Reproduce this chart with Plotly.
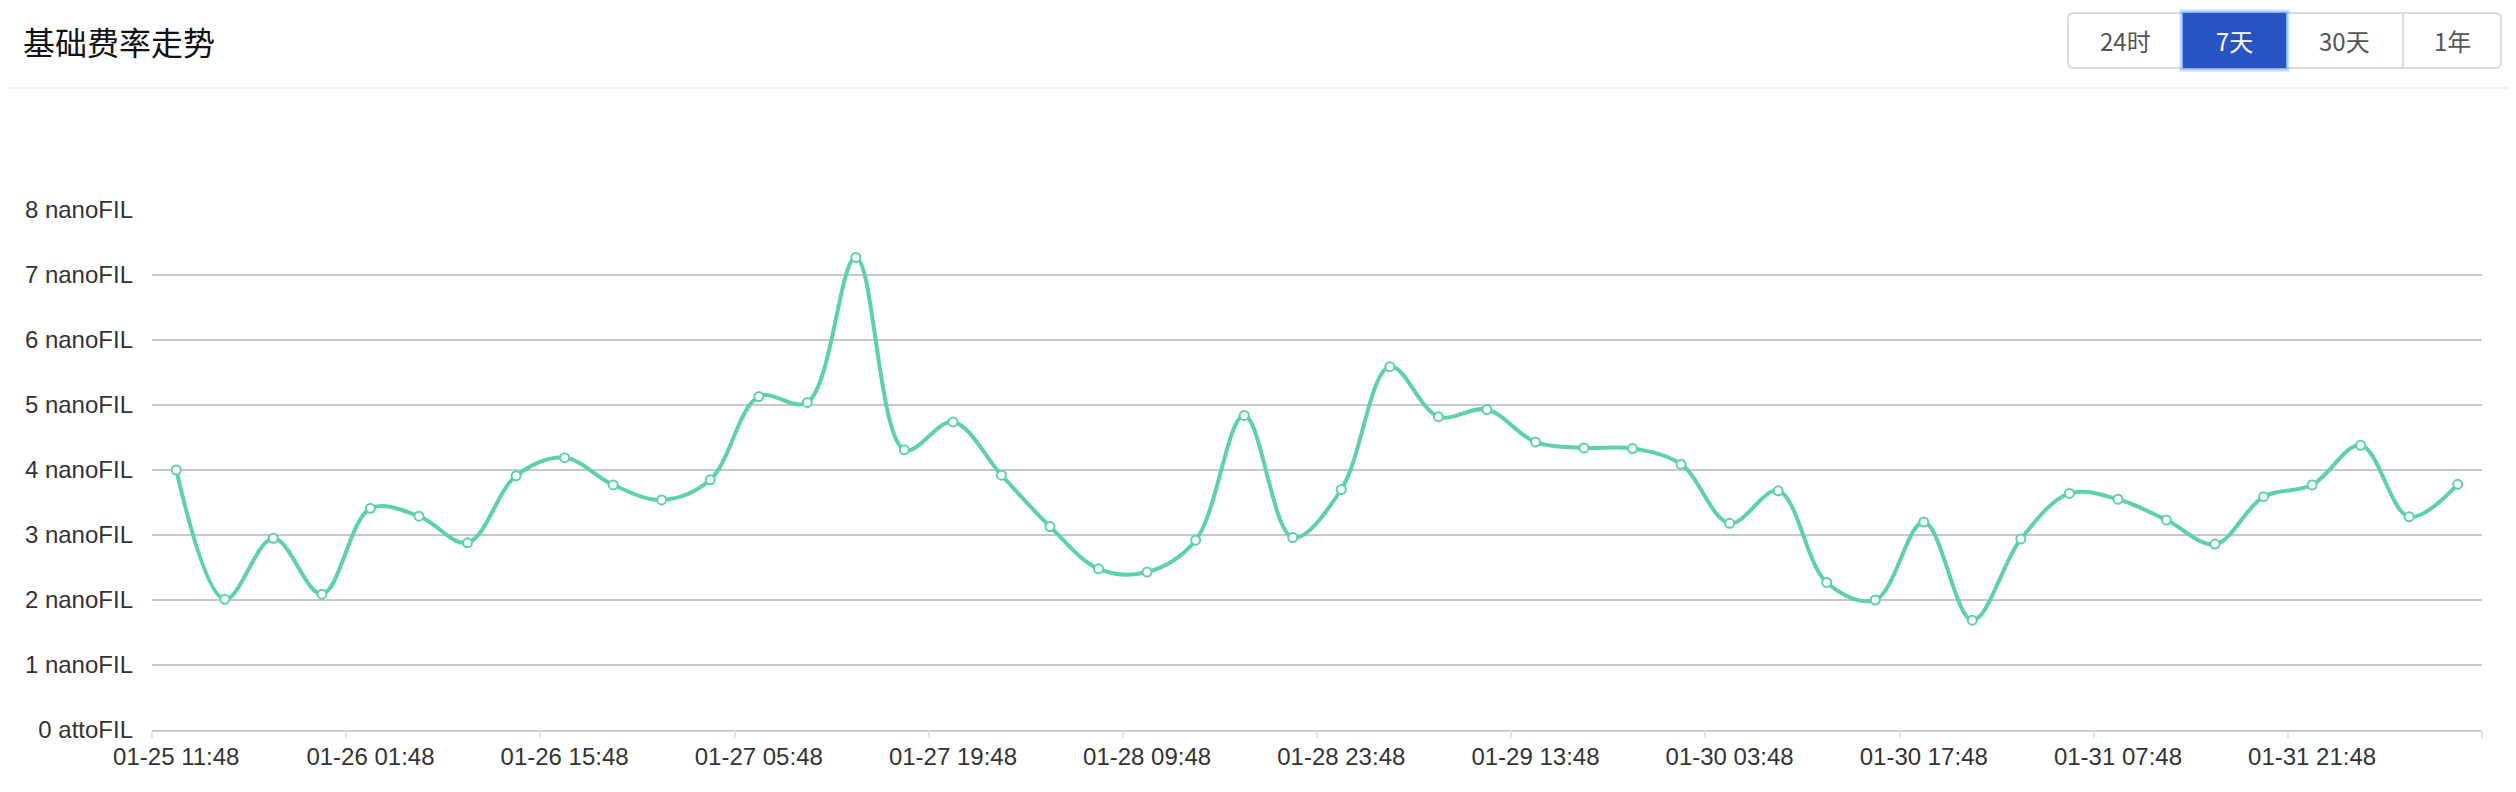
import plotly.graph_objects as go

# ---------------- data ----------------
x_labels = ["01-25 11:48", "01-26 01:48", "01-26 15:48", "01-27 05:48",
            "01-27 19:48", "01-28 09:48", "01-28 23:48", "01-29 13:48",
            "01-30 03:48", "01-30 17:48", "01-31 07:48", "01-31 21:48"]
label_every = 4  # one label every 4 points (3.5 h per point)

fee_nanofil = [4.00, 2.01, 2.95, 2.09, 3.41, 3.29, 2.88, 3.91, 4.19, 3.77,
               3.54, 3.85, 5.13, 5.04, 7.27, 4.31, 4.74, 3.92, 3.13, 2.48,
               2.43, 2.92, 4.84, 2.96, 3.70, 5.59, 4.82, 4.93, 4.43, 4.34,
               4.33, 4.09, 3.18, 3.68, 2.27, 2.00, 3.20, 1.69, 2.94, 3.64,
               3.55, 3.23, 2.86, 3.59, 3.77, 4.38, 3.28, 3.78]

y_ticks = [0, 1, 2, 3, 4, 5, 6, 7, 8]
y_ticktext = ["0 attoFIL", "1 nanoFIL", "2 nanoFIL", "3 nanoFIL", "4 nanoFIL",
              "5 nanoFIL", "6 nanoFIL", "7 nanoFIL", "8 nanoFIL"]

title_text = "基础费率走势"
buttons = ["24时", "7天", "30天", "1年"]
active_button = 1

# ---------------- layout geometry ----------------
OFF = 8                      # default page body margin
W, H = 2516 - 2 * OFF, 792 - 2 * OFF
PL, PR, PT, PB = 152, 2482, 210, 730   # plot area in page pixels
ML, MR, MT, MB = PL - OFF, W - (PR - OFF), PT - OFF, H - (PB - OFF)
PW, PH = W - ML - MR, H - MT - MB

def px(xp):
    return (xp - OFF - ML) / PW

def py(yp):
    return 1 - (yp - OFF - MT) / PH

LINE = "#5dd0ad"
FONT = "Liberation Sans, Arial, Noto Sans CJK SC, sans-serif"
CJK = "Noto Sans CJK SC, Noto Sans, sans-serif"

n = len(fee_nanofil)
xs = list(range(n))
tickvals = xs[::label_every]
boundaries = [i - 0.5 for i in range(0, n + 1, label_every)]

fig = go.Figure()
fig.add_trace(go.Scatter(
    x=xs, y=fee_nanofil, mode="lines+markers",
    line=dict(color=LINE, width=4, shape="spline", smoothing=1.0),
    marker=dict(symbol="circle", size=9, color="white",
                line=dict(color=LINE, width=2)),
    hoverinfo="skip", showlegend=False, cliponaxis=False,
))
# invisible trace for the boundary-tick axis
fig.add_trace(go.Scatter(x=[boundaries[0], boundaries[-1]], y=[0, 0],
                         xaxis="x2", mode="lines",
                         line=dict(width=0, color="rgba(0,0,0,0)"),
                         hoverinfo="skip", showlegend=False))

fig.update_layout(
    width=W, height=H,
    margin=dict(l=ML, r=MR, t=MT, b=MB),
    paper_bgcolor="white", plot_bgcolor="white",
    font=dict(family=FONT, color="#333333", size=24),
    xaxis=dict(range=[-0.5, n - 0.5], tickmode="array", tickvals=tickvals,
               ticktext=x_labels, showgrid=False, zeroline=False,
               showline=True, linecolor="#cccccc", linewidth=2,
               ticks="", ticklabelstandoff=4,
               tickfont=dict(size=24, color="#333333")),
    xaxis2=dict(range=[-0.5, n - 0.5], overlaying="x", side="bottom",
                tickmode="array", tickvals=boundaries, ticks="outside",
                ticklen=7, tickwidth=2, tickcolor="#e3e3e3",
                showticklabels=False, showgrid=False, zeroline=False,
                showline=False),
    yaxis=dict(range=[0, 8], tickmode="array", tickvals=y_ticks,
               ticktext=y_ticktext, showgrid=True, gridcolor="#c8c8c8",
               gridwidth=1.5, zeroline=False, showline=False, ticks="",
               ticklabelstandoff=18,
               tickfont=dict(size=24, color="#333333")),
)

shapes = []
annotations = []

# header separator
shapes.append(dict(type="line", xref="paper", yref="paper",
                   x0=px(0), x1=px(2516), y0=py(88), y1=py(88),
                   line=dict(color="#eef2f6", width=2)))

# title
annotations.append(dict(text=title_text, xref="paper", yref="paper",
                        x=px(21), y=py(41), xanchor="left", yanchor="middle",
                        showarrow=False,
                        font=dict(family=CJK, size=32, color="#111111")))

# button group
bx0, bx1, by0, by1 = 2068, 2501, 13, 68
edges = [2068, 2183, 2286, 2403, 2501]
r = 6
path = (f"M {px(bx0 + r)} {py(by0)} L {px(bx1 - r)} {py(by0)} "
        f"Q {px(bx1)} {py(by0)} {px(bx1)} {py(by0 + r)} "
        f"L {px(bx1)} {py(by1 - r)} Q {px(bx1)} {py(by1)} {px(bx1 - r)} {py(by1)} "
        f"L {px(bx0 + r)} {py(by1)} Q {px(bx0)} {py(by1)} {px(bx0)} {py(by1 - r)} "
        f"L {px(bx0)} {py(by0 + r)} Q {px(bx0)} {py(by0)} {px(bx0 + r)} {py(by0)} Z")
shapes.append(dict(type="path", xref="paper", yref="paper", path=path,
                   fillcolor="white", line=dict(color="#d9dbe0", width=2)))
for e in edges[1:-1]:
    shapes.append(dict(type="line", xref="paper", yref="paper",
                       x0=px(e), x1=px(e), y0=py(by0), y1=py(by1),
                       line=dict(color="#d9dbe0", width=2)))
a0, a1 = edges[active_button], edges[active_button + 1]
# glow
for g, op in [(4, 0.18), (2.5, 0.3), (1.2, 0.45)]:
    shapes.append(dict(type="rect", xref="paper", yref="paper",
                       x0=px(a0 - g), x1=px(a1 + g), y0=py(by0 - g), y1=py(by1 + g),
                       fillcolor=f"rgba(90,150,255,{op})", line=dict(width=0)))
shapes.append(dict(type="rect", xref="paper", yref="paper",
                   x0=px(a0), x1=px(a1), y0=py(by0), y1=py(by1),
                   fillcolor="#2853c3", line=dict(width=0)))
for i, b in enumerate(buttons):
    cx = (edges[i] + edges[i + 1]) / 2
    annotations.append(dict(text=b, xref="paper", yref="paper",
                            x=px(cx), y=py((by0 + by1) / 2),
                            xanchor="center", yanchor="middle", showarrow=False,
                            font=dict(family=CJK, size=24,
                                      color="white" if i == active_button else "#555555")))

fig.update_layout(shapes=shapes, annotations=annotations)
fig.write_html("out.html")
